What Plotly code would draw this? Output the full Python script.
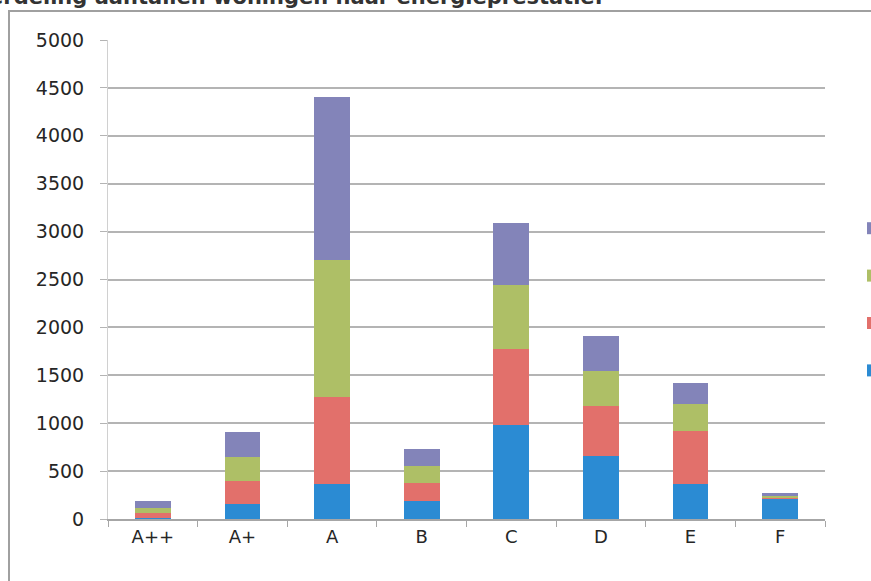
import plotly.graph_objects as go

categories = ["A++", "A+", "A", "B", "C", "D", "E", "F"]
series_names = ["Serie 1", "Serie 2", "Serie 3", "Serie 4"]
blue = [10, 157, 362, 190, 981, 658, 365, 209]
red = [56, 243, 915, 182, 794, 525, 554, 13]
green = [52, 244, 1427, 181, 668, 365, 281, 21]
purple = [73, 261, 1704, 174, 650, 365, 223, 25]
y_ticks = [0, 500, 1000, 1500, 2000, 2500, 3000, 3500, 4000, 4500, 5000]
title_text = "Verdeling aantallen woningen naar energieprestatie:"

colors = ["#2b8bd3", "#e2706b", "#aebf66", "#8384b9"]
values = [blue, red, green, purple]

W, H = 871, 581
L, R, T, B = 108, 46, 40, 62
pw, ph = W - L - R, H - T - B

def px_x(x):
    return (x - L) / pw

def px_y(y):
    return (H - B - y) / ph

fig = go.Figure()
for i, (name, vals, col) in enumerate(zip(series_names, values, colors)):
    fig.add_trace(go.Bar(x=categories, y=vals, name=name, marker_color=col,
                         marker_line_width=0, legendgroup=name, legendrank=10 - i))

fig.update_layout(
    width=W, height=H, barmode="stack", bargap=0.6,
    margin=dict(l=L, r=R, t=T, b=B, autoexpand=False),
    paper_bgcolor="white", plot_bgcolor="white",
    font=dict(family="DejaVu Sans", size=18, color="#262626"),
    showlegend=True,
    legend=dict(x=px_x(853), y=px_y(210), xanchor="left", yanchor="top",
                traceorder="grouped", tracegroupgap=21,
                font=dict(size=18), bgcolor="rgba(0,0,0,0)"),
    xaxis=dict(showgrid=False, showline=True, linecolor="#a6a6a6", linewidth=2,
               ticks="outside", tickson="boundaries", ticklen=6, tickcolor="#a6a6a6",
               tickfont=dict(size=18, color="#262626")),
    yaxis=dict(range=[0, 5000], tickvals=y_ticks, showgrid=True, gridcolor="#b4b4b4",
               gridwidth=1.5, showline=True, linecolor="#d0d0d0", linewidth=1,
               ticks="outside", ticklen=7, tickcolor="#b4b4b4", zeroline=False,
               ticklabelstandoff=12, tickfont=dict(size=19, color="#262626")),
    shapes=[dict(type="rect", xref="paper", yref="paper",
                 x0=px_x(9), x1=px_x(W + 20), y0=px_y(H + 20), y1=px_y(11),
                 line=dict(color="#a0a0a0", width=2), fillcolor="rgba(0,0,0,0)", layer="below")],
    annotations=[dict(text="<b>" + title_text + "</b>", xref="paper", yref="paper",
                      x=px_x(605), y=px_y(-3), xanchor="right", yanchor="middle",
                      showarrow=False, font=dict(family="DejaVu Sans", size=21, color="#333333"))],
)

fig.write_html("out.html")
